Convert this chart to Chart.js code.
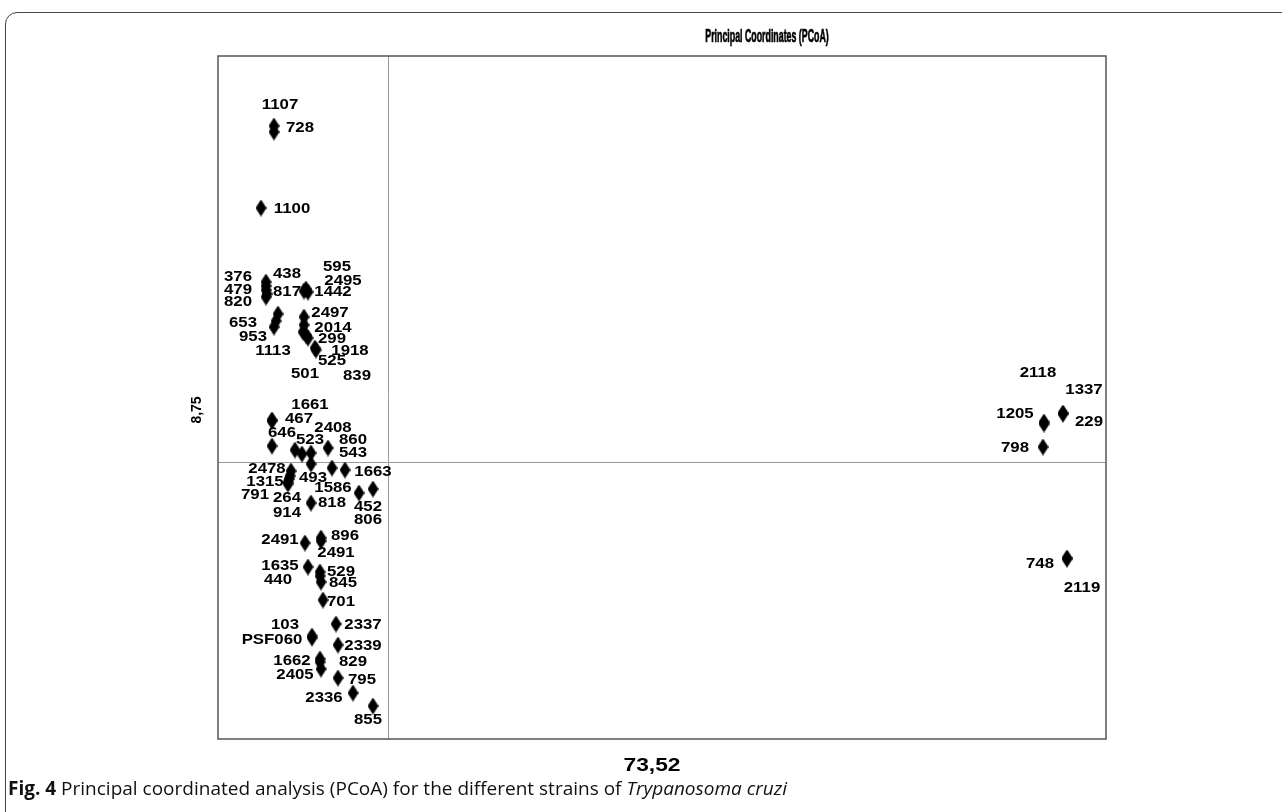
<!DOCTYPE html>
<html>
<head>
<meta charset="utf-8">
<script src="https://cdn.jsdelivr.net/npm/chart.js@4.4.1/dist/chart.umd.min.js"></script>
<style>
  html, body { margin: 0; padding: 0; background: #fff; width: 1282px; height: 812px; overflow: hidden; }
  #frame { position: absolute; left: 5px; top: 12px; width: 1400px; height: 900px;
           border: 1.5px solid #444; border-radius: 12px; box-sizing: border-box; }
  #wrap { position: absolute; left: 0; top: 0; width: 1282px; height: 812px; }
  #caption { position: absolute; left: 8px; top: 775px; font-family: 'Open Sans', sans-serif;
             font-size: 19px; line-height: 26px; color: #111; white-space: nowrap; }
  #caption b { font-weight: 700; }
</style>
</head>
<body>
<div id="frame"></div>
<div id="wrap"><canvas id="c" width="1282" height="812"></canvas></div>
<div id="caption"><b>Fig. 4</b> Principal coordinated analysis (PCoA) for the different strains of <i>Trypanosoma cruzi</i></div>
<script>
// Strain identifiers and their scores on the first two principal coordinates
const strains = [
  '1107','728','1100','376','438','479','817','820','595','2495','1442',
  '653','953','1113','2497','2014','299','1918','525','501','839',
  '1661','467','646','523','2408','860','543','2478','493','1663','1315',
  '1586','791','264','818','452','914','806',
  '2491','896','2491','1635','529','440','845','701',
  '103','2337','PSF060','2339','1662','829','2405','795','2336','855',
  '2118','1337','1205','229','798','748','2119'
];
const coord1 = [
  -1.14,-1.14,-1.27,-1.22,-1.22,-1.22,-1.21,-1.22,-0.84,-0.82,-0.80,
  -1.10,-1.12,-1.14,-0.84,-0.84,-0.85,-0.80,-0.73,-0.82,-0.72,
  -1.16,-1.16,-1.16,-0.93,-0.86,-0.60,-0.77,-0.97,-0.77,-0.43,-1.00,
  -0.56,-0.99,-0.98,-0.77,-0.29,-1.00,-0.15,
  -0.83,-0.67,-0.67,-0.80,-0.68,-0.68,-0.67,-0.65,
  -0.76,-0.52,-0.76,-0.50,-0.68,-0.68,-0.67,-0.50,-0.35,-0.15,
  6.56,6.75,6.56,6.75,6.55,6.79,6.79
];
const coord2 = [
  3.36,3.30,2.54,1.80,1.76,1.72,1.68,1.65,1.71,1.73,1.70,
  1.48,1.41,1.35,1.45,1.37,1.30,1.24,1.14,1.27,1.12,
  0.42,0.41,0.16,0.12,0.08,0.14,0.09,-0.09,-0.02,-0.08,-0.20,
  -0.06,-0.17,-0.14,-0.41,-0.31,-0.22,-0.27,
  -0.81,-0.76,-0.79,-1.05,-1.10,-1.14,-1.20,-1.38,
  -1.74,-1.62,-1.76,-1.83,-1.97,-2.00,-2.07,-2.16,-2.31,-2.44,
  0.40,0.49,0.38,0.48,0.15,-0.96,-0.97
];
const chartTitle = 'Principal Coordinates (PCoA)';
const axis1Title = '73,52';
const axis2Title = '8,75';

// Where each strain name sits relative to its marker (pixels)
const labelOffsets = [
  [6,-21],[26,-4],[31,1],[-28,-5],[21,-12],[-28,0],[20,-2],[-28,5],[33,-24],[37,-8],[25,0],
  [-35,9],[-23,16],[-1,24],[26,-4],[29,3],[29,7],[42,13],[17,13],[-1,39],[41,26],
  [38,-15],[27,-2],[10,-13],[15,-10],[31,-26],[25,-8],[42,0],[-24,-2],[2,14],[28,2],[-23,0],
  [1,20],[-34,16],[-3,22],[21,0],[9,14],[-1,29],[-5,31],
  [-25,-3],[24,-2],[15,12],[-28,-1],[21,0],[-42,4],[22,1],[18,2],
  [-27,-11],[27,1],[-40,2],[25,1],[-28,2],[33,0],[-26,6],[24,2],[-29,5],[-5,14],
  [-6,-49],[21,-23],[-29,-10],[26,8],[-28,1],[-27,6],[15,29]
];

// Tall black diamond used as the marker
function makeDiamond(w, h) {
  const cv = document.createElement('canvas');
  cv.width = w; cv.height = h;
  const g = cv.getContext('2d');
  g.fillStyle = '#000';
  g.beginPath();
  g.moveTo(w / 2, 0); g.lineTo(w, h / 2); g.lineTo(w / 2, h); g.lineTo(0, h / 2);
  g.closePath(); g.fill();
  return cv;
}
const diamond = makeDiamond(11, 17);

const points = coord1.map((x, i) => ({ x: x, y: coord2[i] }));

const LABEL_FONT = 'bold 14px "Liberation Sans", Arial, sans-serif';

// draws text squeezed or widened horizontally around (x, y)
function drawText(ctx, text, x, y, font, sx, weight) {
  ctx.save();
  ctx.translate(x, y);
  ctx.scale(sx, 1);
  ctx.font = font;
  ctx.fillText(text, 0, 0);
  if (weight) { ctx.lineWidth = weight; ctx.strokeText(text, 0, 0); }
  ctx.restore();
}

const plotDecor = {
  id: 'plotDecor',
  beforeDatasetsDraw(chart) {
    const { ctx, chartArea: a, scales } = chart;
    const x0 = scales.x.getPixelForValue(0);
    const y0 = scales.y.getPixelForValue(0);
    ctx.save();
    ctx.strokeStyle = '#9a9a9a';
    ctx.lineWidth = 1;
    ctx.beginPath();
    ctx.moveTo(Math.round(x0) + 0.5, a.top); ctx.lineTo(Math.round(x0) + 0.5, a.bottom);
    ctx.moveTo(a.left, Math.round(y0) + 0.5); ctx.lineTo(a.right, Math.round(y0) + 0.5);
    ctx.stroke();
    ctx.strokeStyle = '#555';
    ctx.lineWidth = 1.5;
    ctx.strokeRect(a.left, a.top, a.right - a.left, a.bottom - a.top);
    ctx.restore();
  },
  afterDatasetsDraw(chart) {
    const { ctx } = chart;
    const meta = chart.getDatasetMeta(0);
    ctx.save();
    ctx.fillStyle = '#000';
    ctx.strokeStyle = '#000';
    ctx.textAlign = 'center';
    ctx.textBaseline = 'middle';
    meta.data.forEach((pt, i) => {
      const off = labelOffsets[i];
      drawText(ctx, strains[i], pt.x + off[0], pt.y + off[1], LABEL_FONT, 1.2, 0);
    });
    ctx.restore();
  },
  afterDraw(chart) {
    const { ctx, chartArea: a } = chart;
    ctx.save();
    ctx.fillStyle = '#000';
    ctx.strokeStyle = '#000';
    ctx.textAlign = 'center';
    ctx.textBaseline = 'middle';
    drawText(ctx, chartTitle, 767, 37, 'bold 18px "Liberation Sans", Arial, sans-serif', 0.49, 0.7);
    drawText(ctx, axis1Title, (a.left + a.right) / 2 - 10, 766, 'bold 19px "Liberation Sans", Arial, sans-serif', 1.2, 0);
    // vertical axis title
    ctx.save();
    ctx.translate(197, 410);
    ctx.rotate(-Math.PI / 2);
    ctx.font = 'bold 14px "Liberation Sans", Arial, sans-serif';
    ctx.fillText(axis2Title, 0, 0);
    ctx.restore();
    ctx.restore();
  }
};

new Chart(document.getElementById('c'), {
  type: 'scatter',
  data: {
    datasets: [{
      label: 'Strains',
      data: points,
      pointStyle: diamond,
      backgroundColor: '#000',
      borderColor: '#000'
    }]
  },
  options: {
    responsive: false,
    devicePixelRatio: 1,
    animation: false,
    layout: { padding: { left: 218, right: 176, top: 56, bottom: 73 } },
    plugins: { legend: { display: false }, tooltip: { enabled: false }, title: { display: false } },
    scales: {
      x: { type: 'linear', min: -1.70, max: 7.18, display: false },
      y: { type: 'linear', min: -2.77, max: 4.06, display: false }
    }
  },
  plugins: [plotDecor]
});
</script>
</body>
</html>
